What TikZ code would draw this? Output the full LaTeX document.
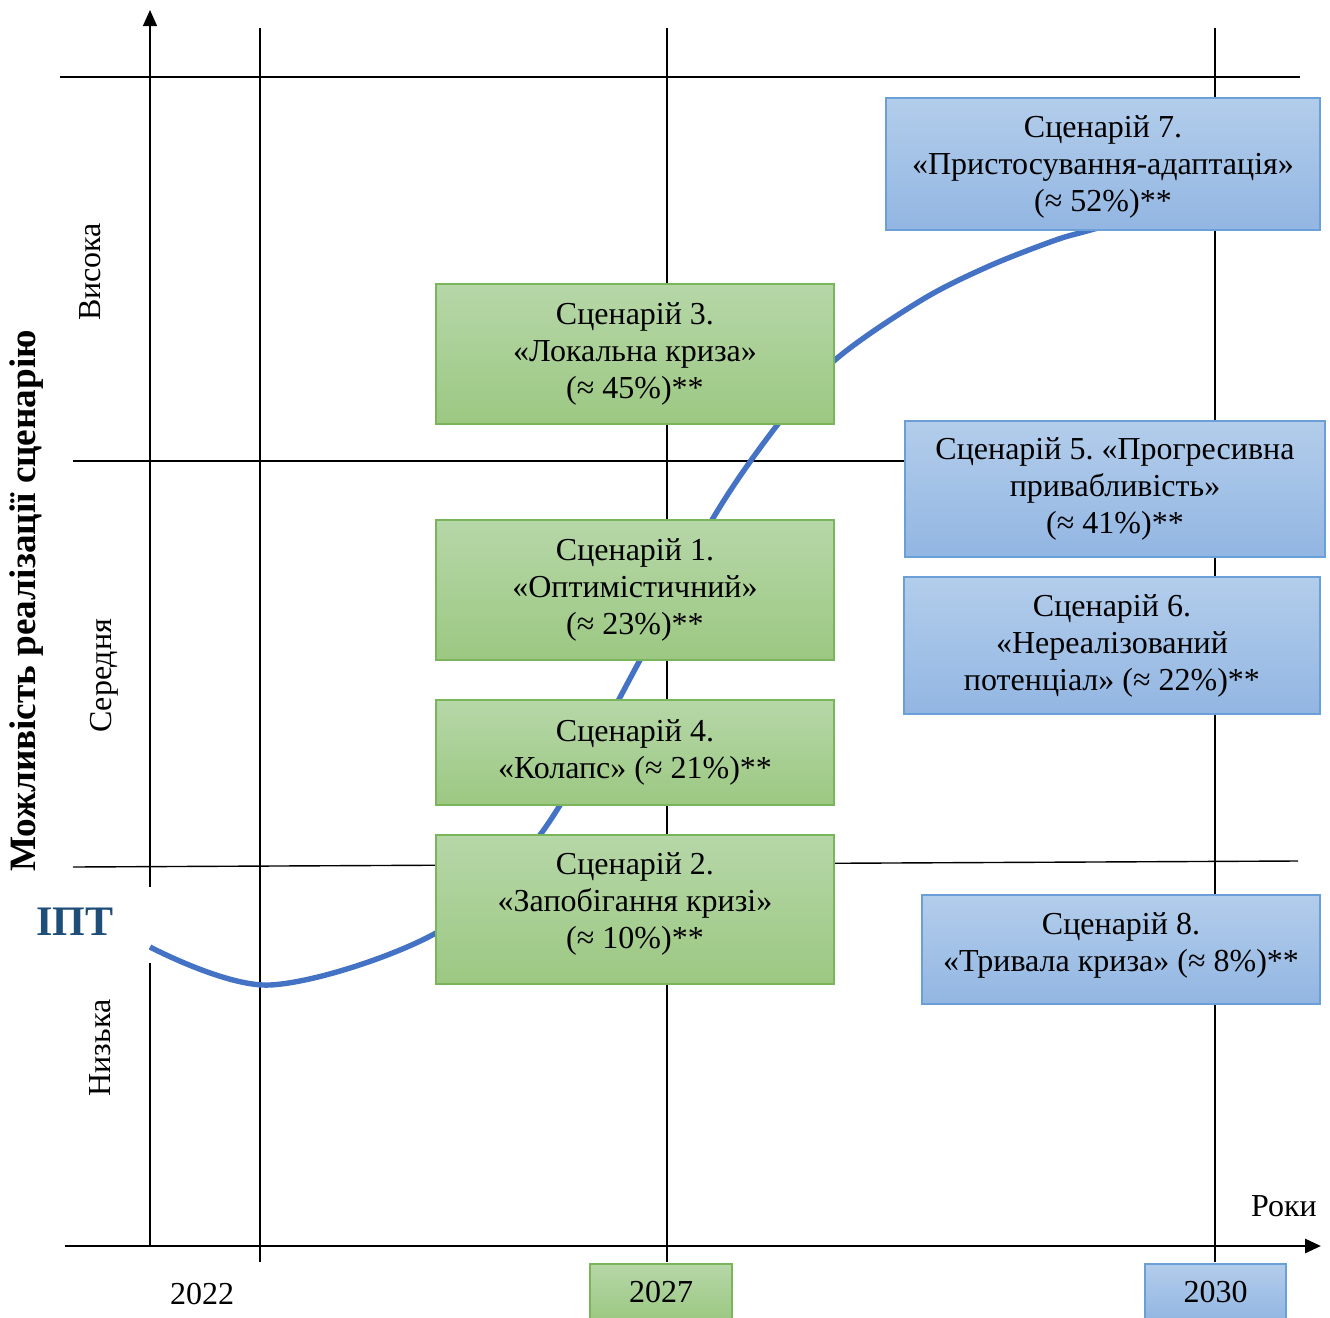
\documentclass[tikz,border=0pt]{standalone}
\usepackage{fontspec}
\setmainfont{Liberation Serif}
\frenchspacing
\usetikzlibrary{arrows.meta}
\definecolor{gtop}{HTML}{B6D7A8}
\definecolor{gbot}{HTML}{9CC882}
\definecolor{gedge}{HTML}{7AB55C}
\definecolor{btop}{HTML}{B3CDEB}
\definecolor{bbot}{HTML}{92B6E2}
\definecolor{bedge}{HTML}{6A9FD8}
\definecolor{curvec}{HTML}{4472C4}
\definecolor{iptc}{HTML}{1F4E79}
\tikzset{
  thinl/.style={line width=0.7pt,black},
  thickl/.style={line width=1.45pt,black},
  tip/.style={-{Triangle[length=8pt,width=7pt]}},
  gbox/.style={draw=gedge,line width=0.6pt,top color=gtop,bottom color=gbot,align=center,inner sep=0pt,font=\fontsize{16}{18.5}\selectfont},
  bbox/.style={draw=bedge,line width=0.6pt,top color=btop,bottom color=bbot,align=center,inner sep=0pt,font=\fontsize{16}{18.5}\selectfont},
  lbl/.style={font=\fontsize{16}{18.5}\selectfont,inner sep=0pt},
  curvel/.style={line width=2.7pt,curvec}
}
\begin{document}
\begin{tikzpicture}[x=0.5pt,y=-0.5pt]
\useasboundingbox[fill=white] (0,0) rectangle (1330,1318);
% thin grid lines
\draw[thinl] (260,28) -- (260,1262);
\draw[thinl] (667,28) -- (667,1262);
\draw[thinl] (1215,28) -- (1215,1262);
\draw[thinl] (60,77) -- (1300,77);
\draw[thinl] (73,461) -- (905,461);
\draw[thinl] (73,867) -- (1298,861);
% frame
\draw[thickl] (150,77) -- (1215,77);
\draw[thickl] (1215,77) -- (1215,1246);
\draw[thickl] (150,1246) -- (150,77);
\draw[thinl,tip] (150,77) -- (150,10);
\draw[thickl,tip] (65,1246) -- (1321,1246);
% white gap on axis
\fill[white] (147,887) rectangle (153,963);
% curve
\draw[curvel] plot[smooth,tension=0.55] coordinates {(150,947) (270,985) (436,933) (540,835) (640,660) (712,520) (778,424) (835,360) (920,301) (987,267) (1053,241) (1087,231) (1150,214)};
% boxes
\node[bbox,minimum width=217pt,minimum height=66pt] (s7) at (1103,164) {};
\node[lbl,align=center] (s7t) at (1103,167) {Сценарій 7.\\«Пристосування-адаптація»\\(≈ 52\%)**};
\node[gbox,minimum width=199pt,minimum height=70pt] (s3) at (635,354) {Сценарій 3.\\«Локальна криза»\\(≈ 45\%)**};
\node[bbox,minimum width=210pt,minimum height=68pt] (s5) at (1115,489) {Сценарій 5. «Прогресивна\\привабливість»\\(≈ 41\%)**};
\node[gbox,minimum width=199pt,minimum height=70pt] (s1) at (635,590) {Сценарій 1.\\«Оптимістичний»\\(≈ 23\%)**};
\node[bbox,minimum width=208pt,minimum height=68.5pt] (s6) at (1112,645.5) {Сценарій 6.\\«Нереалізований\\потенціал» (≈ 22\%)**};
\node[gbox,minimum width=199pt,minimum height=52.5pt] (s4) at (635,752.5) {Сценарій 4.\\«Колапс» (≈ 21\%)**};
\node[gbox,minimum width=199pt,minimum height=74.5pt] (s2) at (635,909.5) {};
\node[lbl,align=center] (s2t) at (635,904) {Сценарій 2.\\«Запобігання кризі»\\(≈ 10\%)**};
\node[bbox,minimum width=199pt,minimum height=54.5pt] (s8) at (1121,949.5) {};
\node[lbl,align=center] (s8t) at (1121,945) {Сценарій 8.\\«Тривала криза» (≈ 8\%)**};
\node[gbox,minimum width=71pt,minimum height=28pt] (y27) at (661,1292) {2027};
\node[bbox,minimum width=70.5pt,minimum height=28pt] (y30) at (1215.5,1292) {2030};
% labels
\node[lbl] (y22) at (202,1294) {2022};
\node[lbl] (roki) at (1284,1206) {Роки};
\node[font=\fontsize{21}{24}\selectfont\bfseries,text=iptc,inner sep=0pt] (ipt) at (75,922) {ІПТ};
\node[lbl,rotate=90] (vys) at (90,272) {Висока};
\node[lbl,rotate=90] (ser) at (104,676) {Середня};
\node[lbl,rotate=90] (niz) at (100,1048) {Низька};
\node[lbl,rotate=90,font=\fontsize{18.6}{21}\selectfont\bfseries] (ylab) at (27,601) {Можливість реалізації сценарію};
\end{tikzpicture}
\end{document}
